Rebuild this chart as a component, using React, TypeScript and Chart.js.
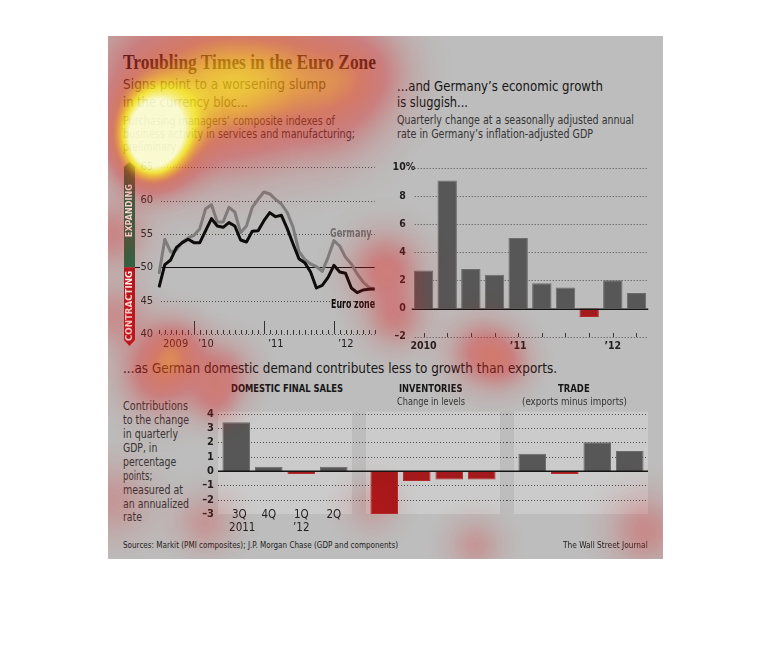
import React, { useEffect, useLayoutEffect, useRef } from 'react';
import { Chart, registerables } from 'chart.js';
Chart.register(...registerables);

const SANS = "'Liberation Sans Narrow','DejaVu Sans Condensed','Liberation Sans',sans-serif";
const SERIF = "'Liberation Serif','DejaVu Serif',serif";

// ---------- data ----------
const pmiMonths = [
  '2009-07', '2009-08', '2009-09', '2009-10', '2009-11', '2009-12',
  '2010-01', '2010-02', '2010-03', '2010-04', '2010-05', '2010-06',
  '2010-07', '2010-08', '2010-09', '2010-10', '2010-11', '2010-12',
  '2011-01', '2011-02', '2011-03', '2011-04', '2011-05', '2011-06',
  '2011-07', '2011-08', '2011-09', '2011-10', '2011-11', '2011-12',
  '2012-01', '2012-02', '2012-03', '2012-04', '2012-05', '2012-06',
  '2012-07', '2012-08',
];
const euroZonePmi = [
  47.0, 50.4, 51.1, 53.0, 53.7, 54.2, 53.7, 53.7, 55.5, 57.3, 56.2, 56.0,
  56.7, 56.2, 54.1, 53.8, 55.4, 55.5, 57.0, 58.2, 57.6, 57.8, 55.8, 53.5,
  51.3, 50.7, 49.3, 46.9, 47.3, 48.5, 50.3, 49.3, 49.1, 46.9, 46.2, 46.6,
  46.7, 46.8,
];
const germanyPmi = [
  49.0, 54.2, 52.3, 52.6, 53.8, 54.4, 54.8, 55.8, 58.8, 59.4, 56.8, 56.8,
  59.0, 58.3, 55.2, 56.2, 59.0, 60.2, 61.3, 61.0, 60.2, 59.5, 58.2, 56.0,
  52.4, 51.2, 50.5, 50.1, 49.4, 51.5, 54.0, 53.2, 51.5, 50.5, 49.0, 47.8,
  47.0, 46.6,
];
const pmiTicks = [40, 45, 50, 55, 60, 65];
const pmiYearLabels = ['2009', '\u201910', '\u201911', '\u201912'];
const pmiYearStarts = ['2009-07', '2010-01', '2011-01', '2012-01'];

const gdpQuarters = ['1Q10', '2Q10', '3Q10', '4Q10', '1Q11', '2Q11', '3Q11', '4Q11', '1Q12', '2Q12'];
const gdpGrowth = [2.7, 9.1, 2.8, 2.4, 5.0, 1.8, 1.5, -0.6, 2.0, 1.1];
const gdpTicks = [-2, 0, 2, 4, 6, 8, 10];
const gdpYearLabels = ['2010', '\u201911', '\u201912'];
const gdpYearStarts = ['1Q10', '1Q11', '1Q12'];

const contribQuarters = ['3Q', '4Q', '1Q', '2Q'];
const contribYears = ['2011', '', '\u201912', ''];
const domesticSales = [3.4, 0.3, -0.2, 0.3];
const inventories = [-3.0, -0.7, -0.6, -0.6];
const trade = [1.2, -0.2, 2.0, 1.4];
const contribTicks = [-3, -2, -1, 0, 1, 2, 3, 4];

// decoration: attention heat spots (page x, page y, weight, sigma)
const heatSpots: number[][] = [
  [152, 140, 0.95, 25], [150, 108, 0.25, 24], [150, 168, 0.2, 20], [165, 125, 0.35, 42],
  [130, 60, 0.15, 35], [205, 62, 0.4, 45], [290, 62, 0.4, 45], [360, 72, 0.3, 32],
  [245, 112, 0.3, 42], [330, 115, 0.2, 35], [112, 235, 0.26, 22],
  [114, 315, 0.22, 22], [385, 268, 0.33, 24], [395, 318, 0.26, 20], [175, 348, 0.3, 20],
  [160, 374, 0.4, 26], [222, 372, 0.28, 20], [215, 402, 0.2, 16], [482, 352, 0.32, 22],
  [505, 362, 0.2, 18], [112, 500, 0.18, 26], [205, 522, 0.18, 20], [372, 505, 0.14, 18],
  [475, 545, 0.18, 18], [645, 530, 0.24, 24],
];

const GRAY = '#575757';
const GRAY_B = '#6c6c6c';
const RED = '#a4191b';
const RED_B = '#b32a2a';

const minus = (v: number) => (v < 0 ? '\u2013' + Math.abs(v) : String(v));

function fitText(ctx: CanvasRenderingContext2D, text: string, x: number, y: number, w: number) {
  const m = ctx.measureText(text).width;
  ctx.save();
  ctx.translate(x, y);
  ctx.scale(w / m, 1);
  ctx.textAlign = 'center';
  ctx.fillText(text, 0, 0);
  ctx.restore();
}

const pmiPlugin = {
  id: 'pmiDeco',
  beforeDatasetsDraw(chart: any) {
    const { ctx, chartArea: a, scales } = chart;
    const x = scales.x, y = scales.y;
    ctx.save();
    ctx.lineWidth = 1;
    ctx.strokeStyle = '#4e4e4e';
    ctx.setLineDash([1, 2]);
    pmiTicks.forEach((v) => {
      if (v === 50) return;
      const py = Math.round(y.getPixelForValue(v)) + 0.5;
      ctx.beginPath(); ctx.moveTo(a.left + 2, py); ctx.lineTo(a.right, py); ctx.stroke();
    });
    ctx.setLineDash([]);
    const p50 = Math.round(y.getPixelForValue(50)) + 0.5;
    ctx.strokeStyle = '#111';
    ctx.beginPath(); ctx.moveTo(a.left + 2, p50); ctx.lineTo(a.right, p50);
    ctx.moveTo(27, p50); ctx.lineTo(32, p50); ctx.stroke();
    ctx.fillStyle = '#2a2a2a';
    ctx.font = `11px ${SANS}`;
    ctx.textAlign = 'right';
    ctx.textBaseline = 'middle';
    pmiTicks.forEach((v) => ctx.fillText(String(v), a.left - 6, y.getPixelForValue(v)));
    // month ticks
    const yb = Math.round(y.getPixelForValue(40));
    ctx.strokeStyle = '#333';
    pmiMonths.forEach((m, i) => {
      const px = Math.round(x.getPixelForValue(i)) + 0.5;
      const major = m.endsWith('-01');
      ctx.beginPath(); ctx.moveTo(px, yb - (major ? 13 : 4)); ctx.lineTo(px, yb); ctx.stroke();
    });
    ctx.textAlign = 'left';
    ctx.font = `11px ${SANS}`;
    ctx.fillStyle = '#1e1e1e';
    pmiYearLabels.forEach((lab, k) => {
      const i = pmiMonths.indexOf(pmiYearStarts[k]);
      ctx.fillText(lab, x.getPixelForValue(i) + 4, yb + 10);
    });
    // expanding / contracting bar
    const xL = 16, xR = 27, xc = 21.5;
    const yTip = y.getPixelForValue(65) - 5.6;
    const yTopSide = yTip + 5;
    const y50 = y.getPixelForValue(50);
    const yBotTip = y.getPixelForValue(40) + 12;
    const yBotSide = yBotTip - 6;
    ctx.fillStyle = '#1d6b48';
    ctx.beginPath(); ctx.moveTo(xc, yTip); ctx.lineTo(xR, yTopSide); ctx.lineTo(xR, y50);
    ctx.lineTo(xL, y50); ctx.lineTo(xL, yTopSide); ctx.closePath(); ctx.fill();
    ctx.fillStyle = '#b3171d';
    ctx.beginPath(); ctx.moveTo(xL, y50); ctx.lineTo(xR, y50); ctx.lineTo(xR, yBotSide);
    ctx.lineTo(xc, yBotTip); ctx.lineTo(xL, yBotSide); ctx.closePath(); ctx.fill();
    ctx.fillStyle = '#ffffff';
    ctx.font = `700 9.5px ${SANS}`;
    ctx.textBaseline = 'middle';
    ctx.save(); ctx.translate(xc + 0.5, y.getPixelForValue(58.5)); ctx.rotate(-Math.PI / 2);
    fitText(ctx, 'EXPANDING', 0, 0, 53); ctx.restore();
    ctx.save(); ctx.translate(xc + 0.5, y.getPixelForValue(44.2)); ctx.rotate(-Math.PI / 2);
    fitText(ctx, 'CONTRACTING', 0, 0, 70); ctx.restore();
    ctx.restore();
  },
};

function y0(y: any) {
  return Math.round(y.getPixelForValue(0)) + 0.25;
}

const gdpPlugin = {
  id: 'gdpDeco',
  beforeDatasetsDraw(chart: any) {
    const { ctx, chartArea: a, scales } = chart;
    const x = scales.x, y = scales.y;
    ctx.save();
    ctx.lineWidth = 1;
    ctx.strokeStyle = '#4e4e4e';
    ctx.setLineDash([1, 2]);
    gdpTicks.forEach((v) => {
      if (v === 0) return;
      const py = Math.round(y.getPixelForValue(v)) + 0.5;
      ctx.beginPath(); ctx.moveTo(a.left + 3, py); ctx.lineTo(a.right, py); ctx.stroke();
    });
    ctx.setLineDash([]);
    ctx.fillStyle = '#1e1e1e';
    ctx.font = `700 10.5px ${SANS}`;
    ctx.textBaseline = 'middle';
    gdpTicks.forEach((v) => {
      const py = y.getPixelForValue(v);
      ctx.textAlign = 'right';
      ctx.fillText(minus(v), a.left - 6, py);
      if (v === gdpTicks[gdpTicks.length - 1]) {
        ctx.textAlign = 'left';
        ctx.fillText('%', a.left - 6, py);
      }
    });
    const yb = Math.round(y.getPixelForValue(gdpTicks[0]));
    ctx.strokeStyle = '#3a3a3a';
    gdpQuarters.forEach((q, i) => {
      const px = Math.round(x.getPixelForValue(i)) + 0.5;
      ctx.beginPath(); ctx.moveTo(px, yb - 4); ctx.lineTo(px, yb); ctx.stroke();
    });
    ctx.textAlign = 'center';
    gdpYearLabels.forEach((lab, k) => {
      const i = gdpQuarters.indexOf(gdpYearStarts[k]);
      ctx.fillText(lab, x.getPixelForValue(i), yb + 9);
    });
    ctx.restore();
  },
  afterDatasetsDraw(chart: any) {
    const { ctx, chartArea: a, scales } = chart;
    const p0 = y0(scales.y);
    ctx.save();
    ctx.strokeStyle = '#151515';
    ctx.lineWidth = 1.5;
    ctx.beginPath(); ctx.moveTo(a.left, p0); ctx.lineTo(a.right, p0); ctx.stroke();
    ctx.restore();
  },
};

function contribPlugin(showAxes: boolean, gridRight: number) {
  return {
    id: 'contribDeco',
    beforeDatasetsDraw(chart: any) {
      const { ctx, chartArea: a, scales } = chart;
      const x = scales.x, y = scales.y;
      ctx.save();
      const top = y.getPixelForValue(4) - 2;
      const bot = y.getPixelForValue(-3);
      ctx.fillStyle = '#cbcbcb';
      ctx.fillRect(a.left - 2, top, a.right - a.left + 4, bot - top);
      const x0 = showAxes ? a.left - 2 : 0;
      ctx.strokeStyle = '#4e4e4e';
      ctx.lineWidth = 1;
      ctx.setLineDash([1, 2]);
      contribTicks.forEach((v) => {
        if (v === 0 || v === -3) return;
        const py = Math.round(y.getPixelForValue(v)) + 0.5;
        ctx.beginPath(); ctx.moveTo(x0, py); ctx.lineTo(gridRight, py); ctx.stroke();
      });
      ctx.setLineDash([]);
      ctx.fillStyle = '#1e1e1e';
      ctx.textBaseline = 'middle';
      if (showAxes) {
        ctx.font = `700 11px ${SANS}`;
        ctx.textAlign = 'right';
        contribTicks.forEach((v) => ctx.fillText(minus(v), a.left - 6, y.getPixelForValue(v)));
        ctx.font = `11.5px ${SANS}`;
        ctx.textAlign = 'center';
        const yb = y.getPixelForValue(-3);
        contribQuarters.forEach((q, i) => {
          const px = x.getPixelForValue(i);
          ctx.fillText(q, px + (i === 0 ? 3 : 0), yb + 1.5);
          if (contribYears[i]) ctx.fillText(contribYears[i], px + (i === 0 ? 6 : 0), yb + 14.5);
        });
      }
      ctx.restore();
    },
    afterDatasetsDraw(chart: any) {
      const { ctx, chartArea: a, scales } = chart;
      const p0 = y0(scales.y);
      ctx.save();
      ctx.strokeStyle = '#151515';
      ctx.lineWidth = 1.5;
      ctx.beginPath(); ctx.moveTo(showAxes ? a.left - 2 : 0, p0); ctx.lineTo(gridRight, p0); ctx.stroke();
      ctx.restore();
    },
  };
}

function baseOptions(padding: any, ymin: number, ymax: number) {
  return {
    responsive: false,
    maintainAspectRatio: false,
    animation: false as const,
    events: [] as any[],
    layout: { padding },
    plugins: { legend: { display: false }, tooltip: { enabled: false }, title: { display: false } },
    scales: {
      x: { display: false },
      y: { display: false, min: ymin, max: ymax },
    },
  };
}

function barDataset(values: number[], pct: number) {
  return {
    data: values,
    backgroundColor: values.map((v) => (v < 0 ? RED : GRAY)),
    borderColor: values.map((v) => (v < 0 ? RED_B : GRAY_B)),
    borderWidth: 1,
    barPercentage: pct,
    categoryPercentage: 1,
  };
}

function Label(p: { x: number; y: number; s: number; w?: number; t: string; b?: number; c?: string; f?: string }) {
  const ref = useRef<HTMLDivElement>(null);
  useLayoutEffect(() => {
    const el = ref.current;
    if (!el) return;
    el.style.transform = 'none';
    const m = el.getBoundingClientRect().width;
    if (p.w && m > 0) el.style.transform = `scaleX(${p.w / m})`;
  });
  return (
    <div
      ref={ref}
      style={{
        position: 'absolute', left: p.x, top: p.y - 0.845 * p.s, fontSize: p.s,
        lineHeight: `${p.s}px`, fontWeight: p.b ?? 400, color: p.c ?? '#1a1a1a',
        fontFamily: p.f ?? SANS, whiteSpace: 'nowrap', transformOrigin: '0 0',
      }}
    >
      {p.t}
    </div>
  );
}

export default function App() {
  const pmiRef = useRef<HTMLCanvasElement>(null);
  const gdpRef = useRef<HTMLCanvasElement>(null);
  const domRef = useRef<HTMLCanvasElement>(null);
  const invRef = useRef<HTMLCanvasElement>(null);
  const trdRef = useRef<HTMLCanvasElement>(null);
  const heatRef = useRef<HTMLCanvasElement>(null);

  useEffect(() => {
    const charts: Chart[] = [];
    charts.push(new Chart(pmiRef.current!, {
      type: 'line',
      data: {
        labels: pmiMonths,
        datasets: [
          { label: 'Euro zone', data: euroZonePmi, borderColor: '#0c0c0c', borderWidth: 3, pointRadius: 0, tension: 0, borderJoinStyle: 'round' },
          { label: 'Germany', data: germanyPmi, borderColor: '#7e7e7e', borderWidth: 3, pointRadius: 0, tension: 0, borderJoinStyle: 'round' },
        ],
      },
      options: baseOptions({ left: 51, right: 13.3, top: 17.3, bottom: 26 }, 40, 65) as any,
      plugins: [pmiPlugin],
    }));
    charts.push(new Chart(gdpRef.current!, {
      type: 'bar',
      data: { labels: gdpQuarters, datasets: [barDataset(gdpGrowth, 0.82) as any] },
      options: baseOptions({ left: 26.7, right: 11.7, top: 17.7, bottom: 23.3 }, -2, 10) as any,
      plugins: [gdpPlugin],
    }));
    charts.push(new Chart(domRef.current!, {
      type: 'bar',
      data: { labels: contribQuarters, datasets: [barDataset(domesticSales, 0.85) as any] },
      options: baseOptions({ left: 25, right: 9, top: 13.7, bottom: 21 }, -3, 4) as any,
      plugins: [contribPlugin(true, 164)],
    }));
    charts.push(new Chart(invRef.current!, {
      type: 'bar',
      data: { labels: contribQuarters, datasets: [barDataset(inventories, 0.85) as any] },
      options: baseOptions({ left: 9, right: 9, top: 13.7, bottom: 21 }, -3, 4) as any,
      plugins: [contribPlugin(false, 148)],
    }));
    charts.push(new Chart(trdRef.current!, {
      type: 'bar',
      data: { labels: contribQuarters, datasets: [barDataset(trade, 0.85) as any] },
      options: baseOptions({ left: 9, right: 4, top: 13.7, bottom: 21 }, -3, 4) as any,
      plugins: [contribPlugin(false, 141)],
    }));
    return () => charts.forEach((c) => c.destroy());
  }, []);

  useEffect(() => {
    const cv = heatRef.current;
    if (!cv) return;
    const ctx = cv.getContext('2d')!;
    const W = 555, H = 523, ox = 108, oy = 36;
    const img = ctx.createImageData(W, H);
    const stops = [
      [0.0, 220, 0, 0, 0],
      [0.1, 220, 20, 20, 0.12],
      [0.3, 225, 25, 25, 0.38],
      [0.5, 235, 60, 20, 0.52],
      [0.65, 250, 150, 10, 0.66],
      [0.8, 255, 235, 20, 0.8],
      [1.0, 255, 255, 210, 0.92],
    ];
    for (let py = 0; py < H; py++) {
      for (let px = 0; px < W; px++) {
        const gx = px + ox, gy = py + oy;
        let h = 0;
        for (const s of heatSpots) {
          const dx = gx - s[0], dy = gy - s[1];
          const d2 = dx * dx + dy * dy;
          const lim = 9 * s[3] * s[3];
          if (d2 < lim) h += s[2] * Math.exp(-d2 / (2 * s[3] * s[3]));
        }
        if (h <= 0.005) continue;
        if (h > 1) h = 1;
        let k = 0;
        while (k < stops.length - 2 && h > stops[k + 1][0]) k++;
        const a = stops[k], b = stops[k + 1];
        const t = (h - a[0]) / (b[0] - a[0]);
        const i = (py * W + px) * 4;
        img.data[i] = a[1] + (b[1] - a[1]) * t;
        img.data[i + 1] = a[2] + (b[2] - a[2]) * t;
        img.data[i + 2] = a[3] + (b[3] - a[3]) * t;
        img.data[i + 3] = 255 * (a[4] + (b[4] - a[4]) * t);
      }
    }
    ctx.putImageData(img, 0, 0);
  }, []);

  const cv = (ref: any, left: number, top: number, w: number, h: number) => (
    <canvas ref={ref} width={w} height={h} style={{ position: 'absolute', left, top, width: w, height: h }} />
  );

  const desc = '#353535';
  return (
    <div style={{ position: 'absolute', left: 0, top: 0, width: 770, height: 654, background: '#ffffff', overflow: 'hidden' }}>
      <div style={{ position: 'absolute', left: 108, top: 36, width: 555, height: 523, background: '#bdbdbd' }} />

      <Label t="Troubling Times in the Euro Zone" x={123} y={68.5} s={20} b={700} w={253} f={SERIF} c="#1a1a1a" />
      <Label t="Signs point to a worsening slump" x={123} y={89} s={14.5} w={203} c="#1c1c1c" />
      <Label t="in the currency bloc..." x={123} y={107} s={14.5} w={125} c="#1c1c1c" />
      <Label t="Purchasing managers’ composite indexes of" x={123} y={125} s={12} w={212} c={desc} />
      <Label t="business activity in services and manufacturing;" x={123} y={138.5} s={12} w={232} c={desc} />
      <Label t="preliminary" x={123} y={151.5} s={12} w={53} c={desc} />

      <Label t="...and Germany’s economic growth" x={397} y={91} s={14.5} w={206} c="#161616" />
      <Label t="is sluggish..." x={397} y={107.5} s={14.5} w={71} c="#161616" />
      <Label t="Quarterly change at a seasonally adjusted annual" x={397} y={124} s={12} w={237} c={desc} />
      <Label t="rate in Germany’s inflation-adjusted GDP" x={397} y={138} s={12} w={196} c={desc} />

      {cv(pmiRef, 108, 150, 280, 210)}
      {cv(gdpRef, 385, 150, 275, 210)}
      <Label t="Germany" x={329.7} y={237.7} s={11.5} b={700} w={41.6} c="#707070" />
      <Label t="Euro zone" x={330.7} y={309} s={11.5} b={700} w={44} c="#0d0d0d" />

      <Label t="...as German domestic demand contributes less to growth than exports." x={123} y={373} s={14.5} w={434} c="#161616" />
      <Label t="DOMESTIC FINAL SALES" x={231.3} y={392} s={10.5} b={700} w={112} c="#161616" />
      <Label t="INVENTORIES" x={399.3} y={392} s={10.5} b={700} w={63.4} c="#161616" />
      <Label t="Change in levels" x={396.7} y={405} s={11} w={68} c={desc} />
      <Label t="TRADE" x={558.3} y={392} s={10.5} b={700} w={31.7} c="#161616" />
      <Label t="(exports minus imports)" x={521.7} y={405} s={11} w={105} c={desc} />

      <Label t="Contributions" x={123} y={411} s={12.5} w={65} c={desc} />
      <Label t="to the change" x={123} y={424.3} s={12.5} w={66} c={desc} />
      <Label t="in quarterly" x={123} y={438.3} s={12.5} w={55} c={desc} />
      <Label t="GDP, in" x={123} y={452.3} s={12.5} w={34.3} c={desc} />
      <Label t="percentage" x={123} y={466.3} s={12.5} w={53.3} c={desc} />
      <Label t="points;" x={123} y={480.3} s={12.5} w={29.3} c={desc} />
      <Label t="measured at" x={123} y={494.3} s={12.5} w={60} c={desc} />
      <Label t="an annualized" x={123} y={508.3} s={12.5} w={66} c={desc} />
      <Label t="rate" x={123} y={521.7} s={12.5} w={19} c={desc} />

      {cv(domRef, 195, 400, 164, 135)}
      {cv(invRef, 359, 400, 148, 135)}
      {cv(trdRef, 507, 400, 143, 135)}

      <Label t="Sources: Markit (PMI composites); J.P. Morgan Chase (GDP and components)" x={123} y={548.3} s={9.5} w={275} c="#222" />
      <Label t="The Wall Street Journal" x={563.3} y={548.3} s={9.5} w={84.7} c="#222" />

      <canvas ref={heatRef} width={555} height={523} style={{ position: 'absolute', left: 108, top: 36, width: 555, height: 523, pointerEvents: 'none' }} />
    </div>
  );
}
